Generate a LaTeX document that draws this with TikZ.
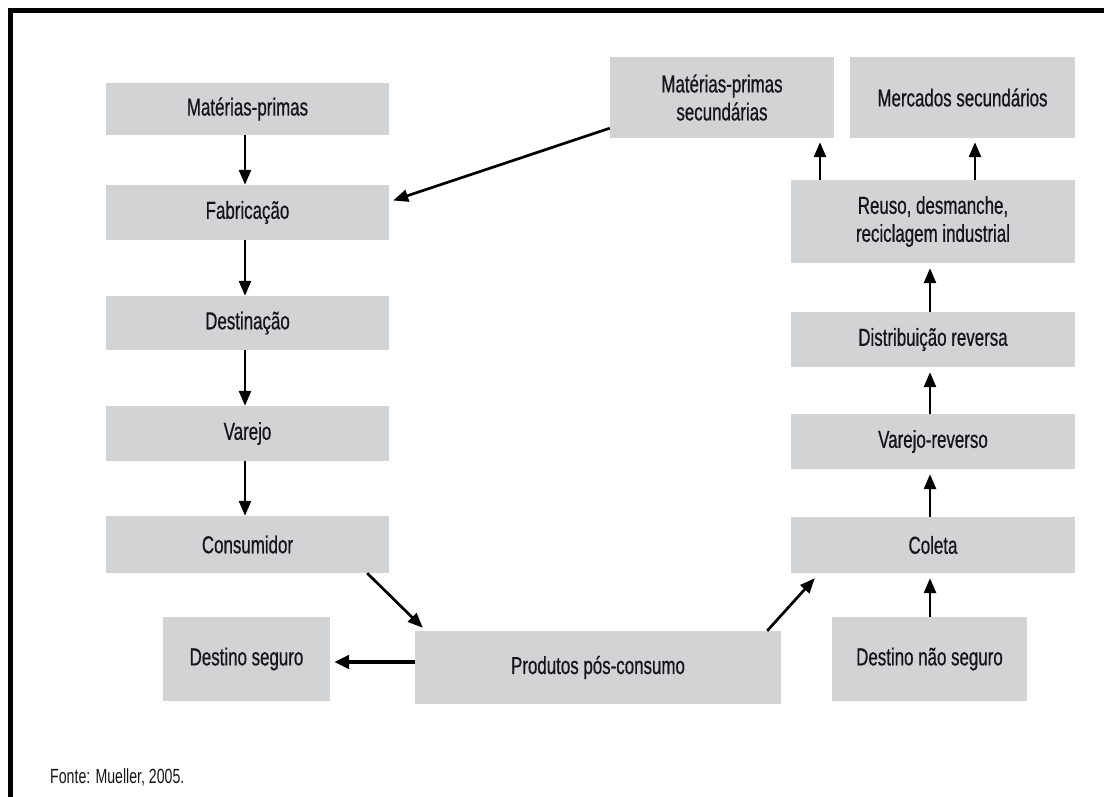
\documentclass[tikz,border=0pt]{standalone}
\usepackage{fontspec}
\setmainfont[FakeStretch=0.69, FakeBold=0.6]{Liberation Sans}
\newfontfamily\lightfont[FakeStretch=0.69]{Liberation Sans}
\usetikzlibrary{arrows.meta}
\definecolor{boxgray}{RGB}{209,211,212}
\definecolor{txt}{RGB}{20,20,25}
\tikzset{
  box/.style={fill=boxgray, draw=none, inner sep=0pt, align=center, text=txt,
    font=\fontsize{24.5}{28}\selectfont},
  arr/.style={line width=2.7pt, -{Triangle[length=15pt,width=12pt]}},
  arrthick/.style={line width=3.6pt, -{Triangle[length=15pt,width=13.5pt]}},
}
\begin{document}
\begin{tikzpicture}[x=1pt,y=-1pt]
\useasboundingbox (0,0) rectangle (1104,797);
% frame
\draw[line width=4.2pt] (10.5,10.5) -- (1104,10.5);
\draw[line width=4.2pt] (10.5,8.4) -- (10.5,797);
% left column
\node[box, minimum width=283pt, minimum height=52pt] (mp) at (247.5,109) {Matérias-primas};
\node[box, minimum width=283pt, minimum height=55pt] (fab) at (247.5,212.5) {Fabricação};
\node[box, minimum width=283pt, minimum height=54pt] (dest) at (247.5,323) {Destinação};
\node[box, minimum width=283pt, minimum height=55pt] (var) at (247.5,433.5) {Varejo};
\node[box, minimum width=283pt, minimum height=57pt] (cons) at (247.5,544.5) {Consumidor};
% top right
\node[box, minimum width=224pt, minimum height=81pt] (mps) at (722,97.5) {Matérias-primas\\secundárias};
\node[box, minimum width=225pt, minimum height=81pt] (merc) at (962.5,97.5) {Mercados secundários};
% right column
\node[box, minimum width=284pt, minimum height=83pt] (reuso) at (933,221.5) {Reuso, desmanche,\\reciclagem industrial};
\node[box, minimum width=284pt, minimum height=55pt] (distr) at (933,339.5) {Distribuição reversa};
\node[box, minimum width=284pt, minimum height=55pt] (varrev) at (933,441.5) {Varejo-reverso};
\node[box, minimum width=284pt, minimum height=56pt] (coleta) at (933,545) {Coleta};
% bottom row
\node[box, minimum width=167pt, minimum height=84pt] (dseg) at (246.5,659) {Destino seguro};
\node[box, minimum width=366pt, minimum height=73pt] (prod) at (598,667.5) {Produtos pós-consumo};
\node[box, minimum width=195pt, minimum height=84pt] (dnseg) at (929.5,659) {Destino não seguro};
% source
\node[anchor=west, inner sep=0pt, text=txt, font=\lightfont\fontsize{20.5}{23}\selectfont] (fonte) at (50,777) {Fonte: Mueller, 2005.};
% helper coordinates
\coordinate (xl) at (245,0);
\coordinate (xr) at (930,0);
\coordinate (xa) at (820,0);
\coordinate (xb) at (975,0);
% left column arrows
\draw[arr] (mp.south -| xl) -- (fab.north -| xl);
\draw[arr] (fab.south -| xl) -- (dest.north -| xl);
\draw[arr] (dest.south -| xl) -- (var.north -| xl);
\draw[arr] (var.south -| xl) -- (cons.north -| xl);
% right column arrows
\draw[arr, shorten >=5pt] (coleta.north -| xr) -- (varrev.south -| xr);
\draw[arr, shorten >=5pt] (varrev.north -| xr) -- (distr.south -| xr);
\draw[arr, shorten >=5pt] (distr.north -| xr) -- (reuso.south -| xr);
\draw[arr, shorten >=4pt] (reuso.north -| xa) -- (mps.south -| xa);
\draw[arr, shorten >=4pt] (reuso.north -| xb) -- (merc.south -| xb);
\draw[arr, shorten >=5pt] (dnseg.north -| xr) -- (coleta.south -| xr);
% diagonal arrows
\draw[arr] ([yshift=10pt]mps.south west) -- ([xshift=4pt,yshift=12pt]fab.east);
\draw[arr] ([xshift=-22pt]cons.south east) -- ([xshift=8pt,yshift=3pt]prod.north west);
\draw[arr] ([xshift=-14pt]prod.north east) -- ([xshift=24pt,yshift=-5pt]coleta.south west);
% to destino seguro
\draw[arrthick, shorten >=4pt] (prod.west |- 0,662) -- (dseg.east |- 0,662);
\end{tikzpicture}
\end{document}
